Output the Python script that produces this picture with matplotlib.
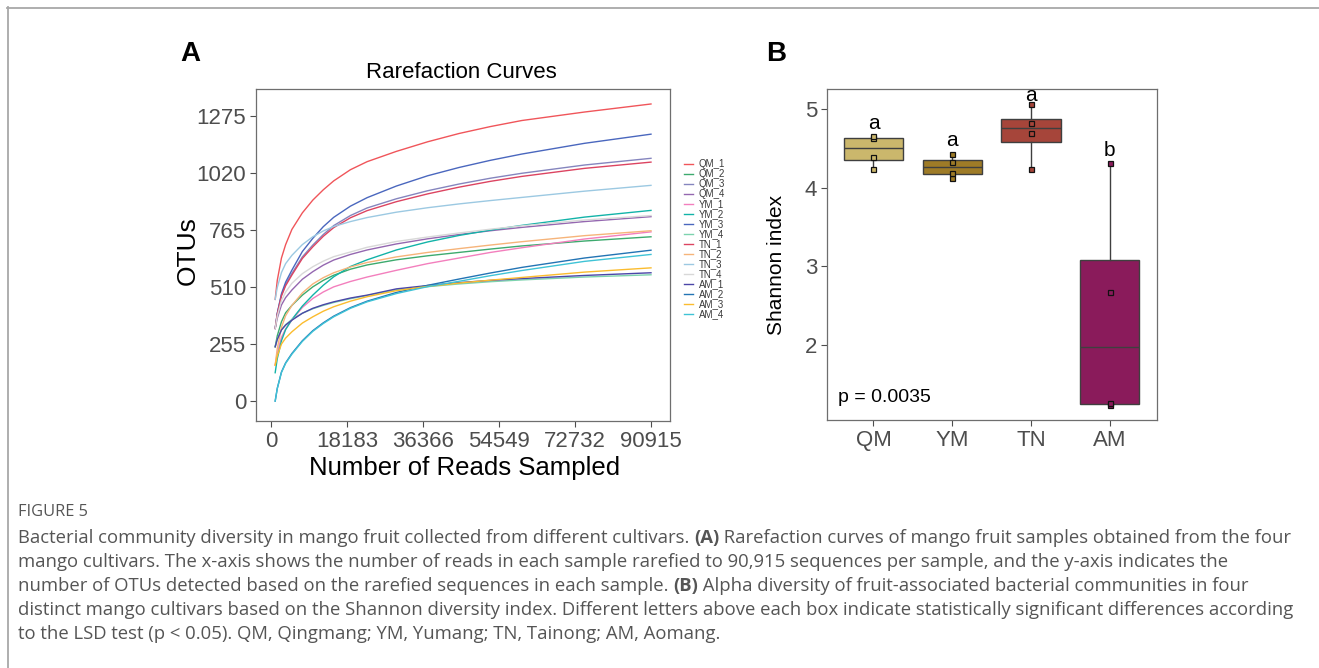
import numpy as np
import matplotlib.pyplot as plt
from matplotlib.lines import Line2D

plt.rcParams['font.family'] = ['Liberation Sans', 'DejaVu Sans']

W, H = 1319, 668

# rarefaction curves: reads sampled and OTUs observed per sample
reads = [1000, 1500, 2500, 3500, 5000, 7500, 10000, 12500, 15000, 19000,
         23000, 30000, 37500, 45000, 52500, 60000, 75000, 90915]
samples = ['QM_1', 'QM_2', 'QM_3', 'QM_4', 'YM_1', 'YM_2', 'YM_3', 'YM_4',
           'TN_1', 'TN_2', 'TN_3', 'TN_4', 'AM_1', 'AM_2', 'AM_3', 'AM_4']
otus = {
    'QM_1': [455, 540, 640, 700, 768, 842, 899, 945, 985, 1035, 1071, 1117, 1160, 1197, 1228, 1255, 1293, 1329],
    'QM_2': [243, 292, 355, 395, 428, 474, 511, 540, 563, 590, 609, 632, 650, 665, 680, 694, 716, 735],
    'QM_3': [325, 391, 475, 522, 571, 645, 698, 745, 785, 830, 864, 905, 941, 971, 997, 1019, 1056, 1086],
    'QM_4': [325, 371, 430, 463, 497, 545, 579, 608, 631, 656, 676, 703, 726, 745, 762, 777, 803, 825],
    'YM_1': [161, 216, 285, 323, 362, 419, 459, 488, 511, 535, 555, 585, 615, 640, 665, 686, 725, 757],
    'YM_2': [127, 190, 270, 320, 365, 425, 474, 518, 556, 602, 632, 676, 712, 741, 765, 786, 823, 853],
    'YM_3': [325, 393, 480, 532, 586, 669, 728, 780, 822, 872, 910, 962, 1008, 1045, 1077, 1105, 1153, 1194],
    'YM_4': [243, 277, 320, 342, 365, 393, 413, 428, 441, 458, 472, 498, 512, 524, 534, 542, 555, 565],
    'TN_1': [325, 389, 470, 516, 564, 638, 690, 737, 776, 820, 852, 892, 927, 957, 983, 1005, 1041, 1069],
    'TN_2': [161, 235, 330, 382, 428, 484, 524, 552, 574, 600, 620, 645, 665, 682, 698, 713, 740, 762],
    'TN_3': [455, 508, 575, 615, 652, 700, 735, 761, 781, 803, 821, 845, 865, 882, 897, 911, 939, 965],
    'TN_4': [325, 380, 450, 488, 527, 570, 601, 626, 646, 667, 688, 714, 734, 752, 769, 784, 810, 830],
    'AM_1': [243, 276, 318, 340, 362, 393, 415, 431, 444, 461, 474, 502, 517, 530, 540, 548, 562, 574],
    'AM_2': [0, 57, 130, 171, 213, 270, 315, 350, 380, 418, 447, 486, 518, 546, 573, 598, 640, 675],
    'AM_3': [161, 202, 255, 282, 310, 349, 377, 402, 422, 447, 467, 494, 513, 528, 541, 553, 577, 596],
    'AM_4': [0, 56, 128, 169, 210, 267, 312, 347, 377, 415, 444, 481, 512, 536, 561, 584, 625, 656],
}
curve_colors = ['#F0555A', '#3DAA6E', '#8585BE', '#9467B0', '#F37FBD', '#12B3A8',
                '#4A67BE', '#7DD3AE', '#DC4461', '#F6B47A', '#9CC9E2', '#D8D8D8',
                '#4B46A8', '#2374B4', '#FBBC2E', '#3FC3D6']
x_ticks = [0, 18183, 36366, 54549, 72732, 90915]
y_ticks = [0, 255, 510, 765, 1020, 1275]

# Shannon index per cultivar
groups = ['QM', 'YM', 'TN', 'AM']
shannon = {
    'QM': [4.24, 4.39, 4.63, 4.66],
    'YM': [4.13, 4.19, 4.33, 4.43],
    'TN': [4.24, 4.70, 4.82, 5.07],
    'AM': [1.24, 1.26, 2.68, 4.31],
}
box_colors = ['#CBB76C', '#9E7B27', '#A6453A', '#8A1B5B']
letters = ['a', 'a', 'a', 'b']
letter_y = [4.82, 4.60, 5.18, 4.47]

fig = plt.figure(figsize=(W / 100, H / 100), dpi=100)


def fx(px):
    return px / W


def fy(py):
    return 1 - py / H


# card frame
fig.add_artist(Line2D([fx(7), fx(1319)], [fy(7.5), fy(7.5)], color='#A8A8A8', lw=1.3))
fig.add_artist(Line2D([fx(7.5), fx(7.5)], [fy(7), fy(668)], color='#A8A8A8', lw=1.3))

tick_grey = '#4D4D4D'
spine_grey = '#6E6E6E'

# ---- panel A: rarefaction curves
ax1 = fig.add_axes([fx(256), fy(421), fx(670 - 256), (421 - 89) / H])
for s, c in zip(samples, curve_colors):
    ax1.plot(reads, otus[s], color=c, lw=1.0, label=s)
ax1.set_xlim(-3589, 95461)
ax1.set_ylim(-89, 1396)
ax1.set_xticks(x_ticks)
ax1.set_yticks(y_ticks)
ax1.set_xticklabels([str(v) for v in x_ticks])
ax1.tick_params(labelsize=16, colors=tick_grey, length=4, width=0.8, pad=3)
for sp in ax1.spines.values():
    sp.set_color(spine_grey)
    sp.set_linewidth(0.9)
fig.text(fx(461), fy(72), 'Rarefaction Curves', fontsize=16, ha='center', va='center')
fig.text(fx(465), fy(468), 'Number of Reads Sampled', fontsize=18.5, ha='center', va='center')
fig.text(fx(188), fy(251), 'OTUs', fontsize=19, rotation=90, ha='center', va='center')
leg = ax1.legend(loc='upper left', bbox_to_anchor=(1.025, 0.80), fontsize=7.0,
                 frameon=False, handlelength=0.9, handletextpad=0.6,
                 labelspacing=0.0, borderaxespad=0)
for t in leg.get_texts():
    t.set_color('#3A3A3A')
fig.text(fx(190), fy(54), 'A', fontsize=20, fontweight='bold', ha='center', va='center')

# ---- panel B: Shannon boxplot
ax2 = fig.add_axes([fx(827), fy(420), fx(1157 - 827), (420 - 89) / H])
pos = np.arange(1, len(groups) + 1)
bp = ax2.boxplot([shannon[g] for g in groups], positions=pos, widths=0.75,
                 patch_artist=True, showcaps=False, showfliers=False, whis=1.5,
                 medianprops=dict(color='#3F3F3F', lw=1.0),
                 whiskerprops=dict(color='#3F3F3F', lw=1.0),
                 boxprops=dict(edgecolor='#3F3F3F', lw=1.0))
for patch, c in zip(bp['boxes'], box_colors):
    patch.set_facecolor(c)
for i, g in enumerate(groups):
    ax2.plot([pos[i]] * len(shannon[g]), shannon[g], ls='none', marker='s', ms=3.6,
             mfc=box_colors[i], mec='#111111', mew=0.9, zorder=4)
    ax2.text(pos[i], letter_y[i], letters[i], fontsize=15, ha='center', va='center')
ax2.text(0.55, 1.33, 'p = 0.0035', fontsize=14, ha='left', va='center')
ax2.set_xlim(0.41, 4.6)
ax2.set_ylim(1.046, 5.258)
ax2.set_xticks(pos)
ax2.set_xticklabels(groups)
ax2.set_yticks([2, 3, 4, 5])
ax2.tick_params(labelsize=16, colors=tick_grey, length=4, width=0.8, pad=3)
for sp in ax2.spines.values():
    sp.set_color(spine_grey)
    sp.set_linewidth(0.9)
fig.text(fx(776), fy(265), 'Shannon index', fontsize=15, rotation=90, ha='center', va='center')
fig.text(fx(776), fy(54), 'B', fontsize=20, fontweight='bold', ha='center', va='center')

# ---- caption
cap_font = ['Open Sans', 'DejaVu Sans']
cap_col = '#555555'
cap_size = 13.3
fig.text(fx(18), fy(512), 'FIGURE 5', fontsize=11.8, color=cap_col, family=cap_font,
         va='center')

lines = [
    [('Bacterial community diversity in mango fruit collected from different cultivars. ', 'normal'),
     ('(A)', 'bold'),
     (' Rarefaction curves of mango fruit samples obtained from the four', 'normal')],
    [('mango cultivars. The x-axis shows the number of reads in each sample rarefied to 90,915 sequences per sample, and the y-axis indicates the', 'normal')],
    [('number of OTUs detected based on the rarefied sequences in each sample. ', 'normal'),
     ('(B)', 'bold'),
     (' Alpha diversity of fruit-associated bacterial communities in four', 'normal')],
    [('distinct mango cultivars based on the Shannon diversity index. Different letters above each box indicate statistically significant differences according', 'normal')],
    [('to the LSD test (p < 0.05). QM, Qingmang; YM, Yumang; TN, Tainong; AM, Aomang.', 'normal')],
]
line_y = [538, 562, 586, 610, 634]
renderer = fig.canvas.get_renderer()
for parts, yy in zip(lines, line_y):
    x = 18
    for txt, wt in parts:
        t = fig.text(fx(x), fy(yy), txt, fontsize=cap_size, color=cap_col,
                     family=cap_font, fontweight=wt, va='center')
        x += t.get_window_extent(renderer).width

fig.savefig('out.png', dpi=100)
